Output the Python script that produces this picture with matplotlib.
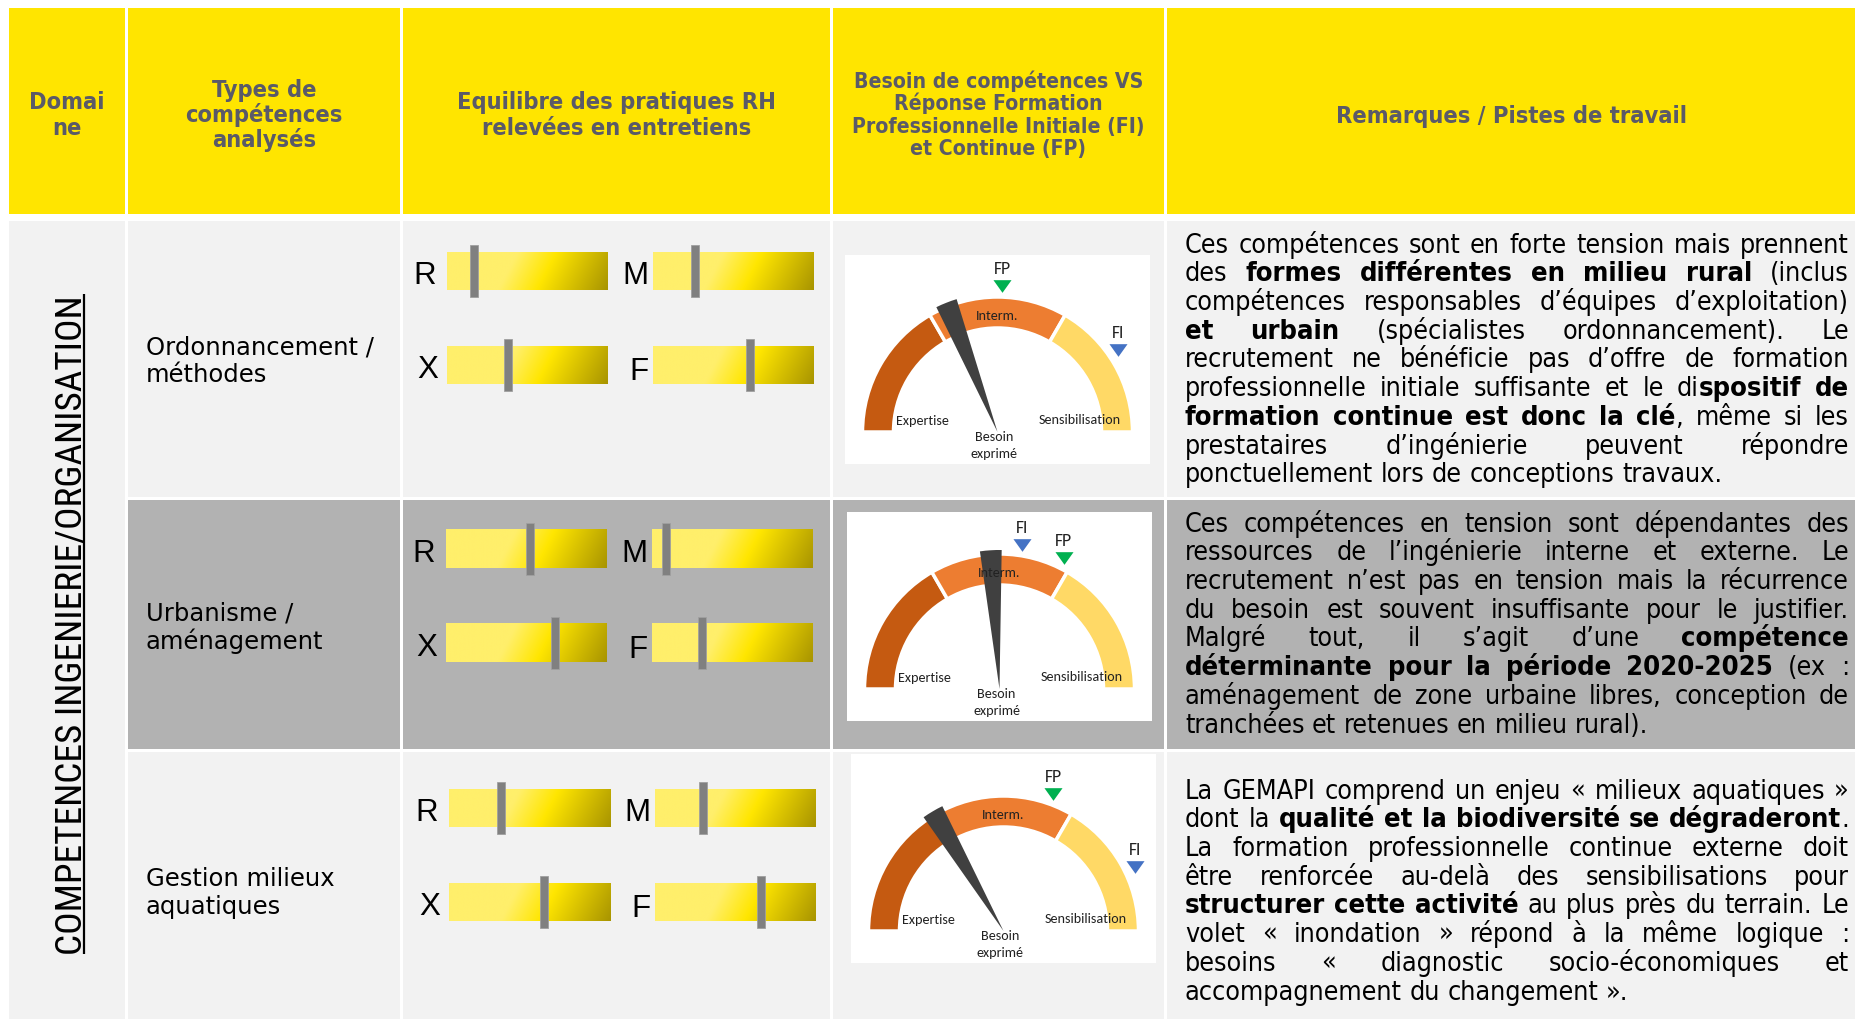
import os
import numpy as np
import matplotlib
matplotlib.use('Agg')
import matplotlib.pyplot as plt
from matplotlib import font_manager as fm
from matplotlib.patches import Rectangle, Wedge

W, H = 1856, 1020

# ---------------- data ----------------
header_domain = ["Domai", "ne"]
header_types = ["Types de", "compétences", "analysés"]
header_equilibre = ["Equilibre des pratiques RH", "relevées en entretiens"]
header_besoin = ["Besoin de compétences VS", "Réponse Formation",
                 "Professionnelle Initiale (FI)", "et Continue (FP)"]
header_remarques = ["Remarques / Pistes de travail"]

domain_label = "COMPETENCES INGENIERIE/ORGANISATION"
competence_labels = [["Ordonnancement /", "méthodes"],
                     ["Urbanisme /", "aménagement"],
                     ["Gestion milieux", "aquatiques"]]

slider_keys = ["R", "M", "X", "F"]
slider_R = [0.17, 0.52, 0.32]
slider_M = [0.26, 0.09, 0.30]
slider_X = [0.38, 0.68, 0.59]
slider_F = [0.60, 0.31, 0.66]

gauge_bands = ["Expertise", "Interm.", "Sensibilisation"]
band_edges = [0.0, 0.333, 0.667, 1.0]
besoin_exprime = [0.38, 0.48, 0.33]
fp_values = [0.51, 0.645, 0.61]
fi_values = [0.81, 0.55, 0.855]

remarks_1 = [
    "Ces compétences sont en forte tension mais prennent",
    "des **formes différentes en milieu rural** (inclus",
    "compétences responsables d’équipes d’exploitation)",
    "**et urbain** (spécialistes ordonnancement). Le",
    "recrutement ne bénéficie pas d’offre de formation",
    "professionnelle initiale suffisante et le di**spositif de**",
    "**formation continue est donc la clé**, même si les",
    "prestataires d’ingénierie peuvent répondre",
    "ponctuellement lors de conceptions travaux.",
]
remarks_2 = [
    "Ces compétences en tension sont dépendantes des",
    "ressources de l’ingénierie interne et externe. Le",
    "recrutement n’est pas en tension mais la récurrence",
    "du besoin est souvent insuffisante pour le justifier.",
    "Malgré tout, il s’agit d’une **compétence**",
    "**déterminante pour la période 2020-2025** (ex :",
    "aménagement de zone urbaine libres, conception de",
    "tranchées et retenues en milieu rural).",
]
remarks_3 = [
    "La GEMAPI comprend un enjeu « milieux aquatiques »",
    "dont la **qualité et la biodiversité se dégraderont**.",
    "La formation professionnelle continue externe doit",
    "être renforcée au-delà des sensibilisations pour",
    "**structurer cette activité** au plus près du terrain. Le",
    "volet « inondation » répond à la même logique :",
    "besoins « diagnostic socio-économiques et",
    "accompagnement du changement ».",
]
remarks = [remarks_1, remarks_2, remarks_3]

# ---------------- styles / layout ----------------
YELLOW = '#FFE500'
LIGHT = '#F2F2F2'
DARK = '#B2B2B2'
HEAD_TXT = '#5A5A68'
BAND_COLORS = ['#C55A11', '#ED7D31', '#FFD966']
NEEDLE = '#404040'
FP_COL = '#00B050'
FI_COL = '#4472C4'
GTXT = '#222222'

col_x = [(9, 125), (128, 400), (403, 830), (833, 1164), (1167, 1856)]
header_y = (9, 215)
row_y = [(222, 498), (501, 750), (753, 1020)]
row_colors = [LIGHT, DARK, LIGHT]

# fonts
_font_files = {}
for _f in fm.fontManager.ttflist:
    _font_files.setdefault(os.path.basename(_f.fname).lower(), _f.fname)
_font_names = {_f.name for _f in fm.fontManager.ttflist}


def font_pair(cands, fallback):
    for reg, bold in cands:
        if reg.lower() in _font_files and bold.lower() in _font_files:
            return (fm.FontProperties(fname=_font_files[reg.lower()]),
                    fm.FontProperties(fname=_font_files[bold.lower()]))
    return (fm.FontProperties(family=fallback, weight='normal'),
            fm.FontProperties(family=fallback, weight='bold'))


tahoma_cands = [('DejaVuSansCondensed.ttf', 'DejaVuSansCondensed-Bold.ttf'),
                ('NotoSans-Condensed.ttf', 'NotoSans-CondensedBold.ttf'),
                ('NotoSans-CondensedRegular.ttf', 'NotoSans-CondensedBold.ttf')]
narrow_cands = [('LiberationSansNarrow-Regular.ttf', 'LiberationSansNarrow-Bold.ttf'),
                ('RobotoCondensed-Regular.ttf', 'RobotoCondensed-Bold.ttf')] + tahoma_cands

F_REG, F_BOLD = font_pair(tahoma_cands, 'Noto Sans')
F_NARROW, _ = font_pair(narrow_cands, 'Roboto')
F_VERDANA = fm.FontProperties(family='DejaVu Sans')
F_ARIAL = fm.FontProperties(family='Liberation Sans')
F_CALIBRI = fm.FontProperties(family='Carlito' if 'Carlito' in _font_names else 'Lato')

fig = plt.figure(figsize=(W / 100, H / 100), dpi=100)
fig.patch.set_facecolor('white')
ax = fig.add_axes([0, 0, 1, 1])
ax.set_xlim(0, W)
ax.set_ylim(H, 0)
ax.axis('off')
renderer = fig.canvas.get_renderer()


def tw(s, fp):
    w, h, d = renderer.get_text_width_height_descent(s, fp, ismath=False)
    return w


def sized(fp, size):
    f = fp.copy()
    f.set_size(size)
    return f


def fit_size(fp, s, target):
    return 20 * target / tw(s, sized(fp, 20))


def fit(fp, s, target):
    return sized(fp, fit_size(fp, s, target))


def px_axes(x0, y0, w, h):
    return fig.add_axes([x0 / W, 1 - (y0 + h) / H, w / W, h / H])


# ---------------- cells ----------------
for (x0, x1) in col_x:
    ax.add_patch(Rectangle((x0, header_y[0]), x1 - x0, header_y[1] - header_y[0],
                           facecolor=YELLOW, edgecolor='none'))
ax.add_patch(Rectangle((col_x[0][0], row_y[0][0]), col_x[0][1] - col_x[0][0],
                       row_y[2][1] - row_y[0][0], facecolor=LIGHT, edgecolor='none'))
for (y0, y1), c in zip(row_y, row_colors):
    for (x0, x1) in col_x[1:]:
        ax.add_patch(Rectangle((x0, y0), x1 - x0, y1 - y0, facecolor=c, edgecolor='none'))

# ---------------- headers ----------------
fh = fit(F_BOLD, header_equilibre[0], 318)
fh4 = fit(F_BOLD, header_besoin[2], 291)
headers = [(header_domain, 67, [109, 135], fh),
           (header_types, 264, [96.5, 122, 147.5], fh),
           (header_equilibre, 616.5, [109.5, 135], fh),
           (header_besoin, 998.5, [87.5, 110, 132.5, 155], fh4),
           (header_remarques, 1511.5, [122.5], fh)]
for lines, xc, ys, f in headers:
    for s, y in zip(lines, ys):
        ax.text(xc, y, s, fontproperties=f, color=HEAD_TXT, ha='center', va='baseline')

# ---------------- domain (vertical) ----------------
fd = fit(F_NARROW, domain_label, 657)
dom_x, dom_y = 82, 625
ax.text(dom_x, dom_y, domain_label, fontproperties=fd, rotation=90,
        rotation_mode='anchor', ha='center', va='baseline', color='black')
dlen = tw(domain_label, fd)
ax.plot([dom_x + 2.5, dom_x + 2.5], [dom_y - dlen / 2, dom_y + dlen / 2],
        color='black', lw=1.6, solid_capstyle='butt')

# ---------------- competence labels ----------------
fc = fit(F_VERDANA, competence_labels[0][0], 227)
label_base = [[354.5, 382.5], [621, 649], [886, 914]]
for lines, ys in zip(competence_labels, label_base):
    for s, y in zip(lines, ys):
        ax.text(145.6, y, s, fontproperties=fc, color='black', ha='left', va='baseline')

# ---------------- sliders ----------------
BAR_W, BAR_H, PAD, MARK_W, MARK_EXT = 161, 38, 9, 8, 7
slider_left_x = [447, 653]
row_bar_top = [(253, 347), (531, 625), (790, 884)]
row_x_shift = [0, -1, 2]
slider_values = {'R': slider_R, 'M': slider_M, 'X': slider_X, 'F': slider_F}
slider_slot = {'R': (0, 0), 'M': (1, 0), 'X': (0, 1), 'F': (1, 1)}
label_dx = {'R': -22, 'M': -18, 'X': -19, 'F': -14}
label_dy = {'R': 12, 'M': 12, 'X': 12, 'F': 14}

nx, ny = 400, 40
xs = np.linspace(0, 1, nx)[None, :]
yd = np.linspace(0, 1, ny)[:, None]
tt = xs + 0.12 * (yd - 0.5)
stops_t = [0.0, 0.38, 0.62, 1.06]
stops_c = np.array([[255, 239, 107], [255, 239, 107], [255, 230, 0], [168, 148, 0]]) / 255
grad = np.dstack([np.interp(tt, stops_t, stops_c[:, k]) for k in range(3)])

fs = sized(F_ARIAL, 22.5)
for r in range(3):
    for k in slider_keys:
        ci, ri = slider_slot[k]
        bx = slider_left_x[ci] + row_x_shift[r]
        by = row_bar_top[r][ri]
        sa = px_axes(bx, by - PAD, BAR_W, BAR_H + 2 * PAD)
        sa.imshow(grad, extent=(0, 1, 0, 1), aspect='auto', interpolation='bilinear', zorder=1)
        sa.set_xlim(0, 1)
        sa.set_ylim(-PAD / BAR_H, 1 + PAD / BAR_H)
        sa.axis('off')
        v = slider_values[k][r]
        mw = MARK_W / BAR_W
        mh = MARK_EXT / BAR_H
        sa.add_patch(Rectangle((v - mw / 2, -mh), mw, 1 + 2 * mh, facecolor='#808080',
                               edgecolor='#a0a0a0', lw=0.6, zorder=3, clip_on=False))
        ax.text(bx + label_dx[k], by + BAR_H / 2 + label_dy[k], k, fontproperties=fs,
                color='black', ha='center', va='baseline')

# ---------------- gauges ----------------
PW, PH = 305, 209
CX, CY = 152.5, 177
gauge_panel = [(845, 256), (847, 513), (851, 755)]
R_OUT, RING_W, R_NEEDLE, NEEDLE_HALF, R_MARK = 135, 31, 139, 4.5, 146
TRI = [(-1, 0.7), (1, 0.7), (0, -0.7)]


def val2ang(v):
    return 180.0 - 180.0 * v


fg = fit(F_CALIBRI, "Sensibilisation", 82)
fgm = sized(F_CALIBRI, fg.get_size() * 1.25)
band_text_pos = [(-75, 12), (0, 117), (82, 13)]

for i in range(3):
    x0, y0 = gauge_panel[i]
    g = px_axes(x0, y0, PW, PH)
    g.set_xlim(-CX, PW - CX)
    g.set_ylim(-(PH - CY), CY)
    g.set_facecolor('white')
    g.set_xticks([])
    g.set_yticks([])
    for s in g.spines.values():
        s.set_visible(False)
    for b in range(3):
        a1 = val2ang(band_edges[b + 1])
        a2 = val2ang(band_edges[b])
        g.add_patch(Wedge((0, 0), R_OUT, a1, a2, width=RING_W, facecolor=BAND_COLORS[b],
                          edgecolor='white', linewidth=2.5, zorder=2))
    a = val2ang(besoin_exprime[i])
    g.add_patch(Wedge((0, 0), R_NEEDLE, a - NEEDLE_HALF, a + NEEDLE_HALF,
                      facecolor=NEEDLE, edgecolor='none', zorder=3))
    for (tx, ty), s in zip(band_text_pos, gauge_bands):
        g.text(tx, ty, s, fontproperties=fg, color=GTXT, ha='center', va='center', zorder=5)
    g.text(-3, -4, "Besoin", fontproperties=fg, color=GTXT, ha='center', va='center', zorder=5)
    g.text(-3, -21, "exprimé", fontproperties=fg, color=GTXT, ha='center', va='center', zorder=5)
    for vals, lab, col in ((fp_values, 'FP', FP_COL), (fi_values, 'FI', FI_COL)):
        ang = np.deg2rad(val2ang(vals[i]))
        mx, my = R_MARK * np.cos(ang), R_MARK * np.sin(ang)
        g.plot([mx], [my], marker=TRI, ms=13, color=col, mec='none', linestyle='none', zorder=4)
        g.text(mx, my + 18, lab, fontproperties=fgm, color=GTXT, ha='center', va='center', zorder=5)

# ---------------- remarks (justified) ----------------
REM_X0, REM_X1 = 1185, 1849
LINE_H = 28.7
rem_base0 = [252.7, 531.7, 798.7]
_fits = [fit_size(F_REG, remarks_1[0], 664),
         fit_size(F_REG, remarks_2[3], 664),
         fit_size(F_REG, remarks_3[0], 664),
         fit_size(F_REG, remarks_1[-1], 469),
         fit_size(F_REG, remarks_2[-1], 469),
         fit_size(F_REG, remarks_3[-1], 440)]
fr = sized(F_REG, float(np.mean(_fits)))
fb = fit(F_BOLD, "qualité et la biodiversité se dégraderont", 561)


def parse_line(line):
    words = [[]]
    bold = False
    for i, seg in enumerate(line.split('**')):
        if i > 0:
            bold = not bold
        parts = seg.split(' ')
        for j, p in enumerate(parts):
            if j > 0:
                words.append([])
            if p:
                words[-1].append((p, bold))
    return [w for w in words if w]


def draw_paragraph(lines, x0, x1, base0):
    sp = tw('n n', fr) - tw('nn', fr)
    for li, line in enumerate(lines):
        words = parse_line(line)
        wws = [[tw(t, fb if b else fr) for t, b in word] for word in words]
        total = sum(sum(w) for w in wws)
        if li == len(lines) - 1 or len(words) == 1:
            gap = sp
        else:
            gap = (x1 - x0 - total) / (len(words) - 1)
        x = x0
        y = base0 + li * LINE_H
        for word, ww in zip(words, wws):
            for (t, b), w in zip(word, ww):
                ax.text(x, y, t, fontproperties=fb if b else fr, color='black',
                        ha='left', va='baseline')
                x += w
            x += gap


for lines, b0 in zip(remarks, rem_base0):
    draw_paragraph(lines, REM_X0, REM_X1, b0)

fig.savefig('out.png', dpi=100, facecolor='white')
